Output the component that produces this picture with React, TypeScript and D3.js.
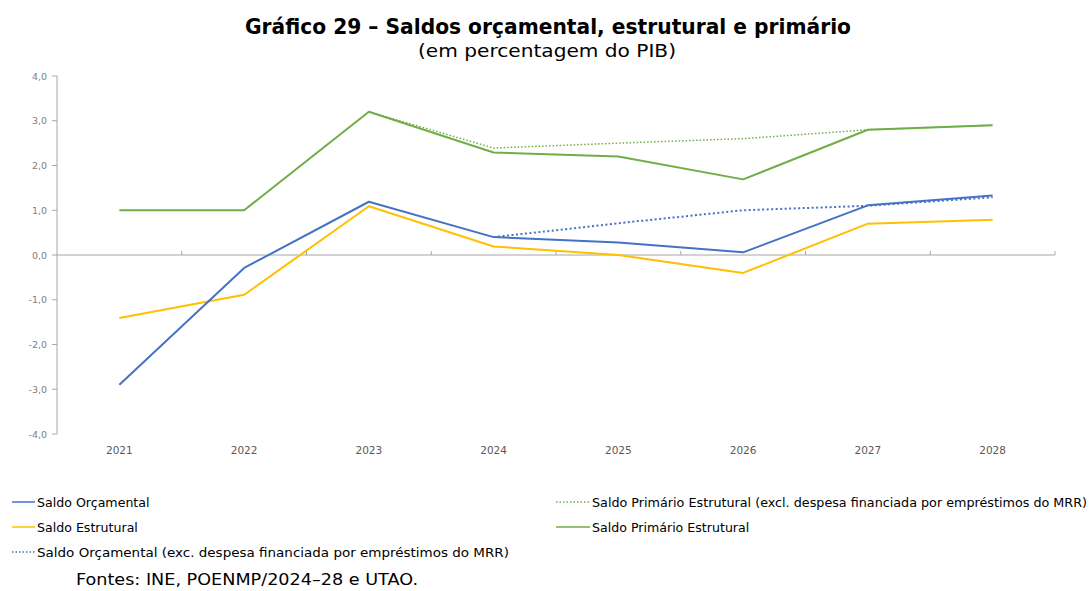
import React from "react";
import * as d3 from "d3";

const years = ["2021", "2022", "2023", "2024", "2025", "2026", "2027", "2028"];
const saldoOrcamental = [-2.9, -0.29, 1.19, 0.4, 0.28, 0.06, 1.11, 1.33];
const saldoEstrutural = [-1.41, -0.89, 1.09, 0.19, 0.0, -0.4, 0.7, 0.79];
const saldoPrimarioEstrutural = [1.0, 1.0, 3.2, 2.29, 2.2, 1.69, 2.8, 2.9];
const saldoPrimarioExcl = [null, null, 3.2, 2.39, 2.5, 2.6, 2.8, 2.9];
const saldoOrcamentalExcl = [null, null, null, 0.4, 0.71, 1.0, 1.1, 1.29];
const yTicks = [4, 3, 2, 1, 0, -1, -2, -3, -4];

const W = 1091;
const H = 591;
const font = "'DejaVu Sans', sans-serif";

export default function App() {
  const x = d3.scaleBand<string>().domain(years).range([57, 1055]);
  const y = d3.scaleLinear().domain([-4, 4]).range([434, 76]);
  const cx = (i: number) => (x(years[i]) as number) + x.bandwidth() / 2;

  const line = d3
    .line<number | null>()
    .defined((d) => d !== null)
    .x((_, i) => cx(i))
    .y((d) => y(d as number));

  const series = [
    { data: saldoOrcamentalExcl, color: "#4472C4", dash: "2,2.5", w: 2 },
    { data: saldoPrimarioExcl, color: "#70AD47", dash: "1.5,2", w: 1.5 },
    { data: saldoEstrutural, color: "#FFC000", dash: null, w: 2 },
    { data: saldoOrcamental, color: "#4472C4", dash: null, w: 2 },
    { data: saldoPrimarioEstrutural, color: "#70AD47", dash: null, w: 2 },
  ];

  const legend = [
    { label: "Saldo Orçamental", color: "#4472C4", dash: null, x: 12, y: 502, len: 23, tl: 0 },
    { label: "Saldo Estrutural", color: "#FFC000", dash: null, x: 12, y: 527, len: 23, tl: 0 },
    {
      label: "Saldo Orçamental (exc. despesa financiada por empréstimos do MRR)",
      color: "#4472C4",
      dash: "1.5,2",
      x: 12,
      y: 552,
      len: 23,
      tl: 472,
    },
    {
      label: "Saldo Primário Estrutural (excl. despesa financiada por empréstimos do MRR)",
      color: "#70AD47",
      dash: "1.5,2",
      x: 556,
      y: 502,
      len: 34,
      tl: 495,
    },
    { label: "Saldo Primário Estrutural", color: "#70AD47", dash: null, x: 556, y: 527, len: 34, tl: 0 },
  ];

  return (
    <svg
      width={W}
      height={H}
      style={{ position: "absolute", left: 0, top: 0, background: "#fff" }}
    >
      <text
        x={548}
        y={34}
        textAnchor="middle"
        fontFamily={font}
        fontWeight="bold"
        fontSize={20.5}
        fill="#000"
        textLength={606}
        lengthAdjust="spacingAndGlyphs"
      >
        Gráfico 29 – Saldos orçamental, estrutural e primário
      </text>
      <text
        x={547}
        y={57}
        textAnchor="middle"
        fontFamily={font}
        fontSize={18.5}
        fill="#000"
        textLength={258}
        lengthAdjust="spacingAndGlyphs"
      >
        (em percentagem do PIB)
      </text>

      {/* y axis */}
      <line x1={57} x2={57} y1={y(4)} y2={y(-4)} stroke="#a6a6a6" strokeWidth={1} />
      {yTicks.map((t) => (
        <g key={t}>
          <line x1={52} x2={57} y1={y(t)} y2={y(t)} stroke="#a6a6a6" />
          <text
            x={47}
            y={y(t) + 3.5}
            textAnchor="end"
            fontFamily={font}
            fontSize={9.5}
            fill="#808080"
          >
            {d3.format(".1f")(t).replace(".", ",").replace("−", "-")}
          </text>
        </g>
      ))}

      {/* x axis at zero */}
      <line x1={57} x2={1055} y1={y(0)} y2={y(0)} stroke="#a6a6a6" strokeWidth={1} />
      {years.map((yr, i) => (
        <g key={yr}>
          {i > 0 && (
            <line
              x1={x(yr) as number}
              x2={x(yr) as number}
              y1={y(0) - 4}
              y2={y(0)}
              stroke="#a6a6a6"
            />
          )}
          <text
            x={cx(i)}
            y={454}
            textAnchor="middle"
            fontFamily={font}
            fontSize={10.5}
            fill="#595959"
          >
            {yr}
          </text>
        </g>
      ))}
      <line x1={1055} x2={1055} y1={y(0) - 4} y2={y(0)} stroke="#a6a6a6" />

      {series.map((s, i) => (
        <path
          key={i}
          d={line(s.data) || ""}
          fill="none"
          stroke={s.color}
          strokeWidth={s.w}
          strokeDasharray={s.dash || undefined}
          strokeLinejoin="round"
        />
      ))}

      {legend.map((l, i) => (
        <g key={i}>
          <line
            x1={l.x}
            x2={l.x + l.len}
            y1={l.y}
            y2={l.y}
            stroke={l.color}
            strokeWidth={1.5}
            strokeDasharray={l.dash || undefined}
          />
          <text
            x={l.x + l.len + 2}
            y={l.y + 4.5}
            fontFamily={font}
            fontSize={12.6}
            fill="#000"
            textLength={l.tl || undefined}
            lengthAdjust={l.tl ? "spacingAndGlyphs" : undefined}
          >
            {l.label}
          </text>
        </g>
      ))}

      <text
        x={76}
        y={585}
        fontFamily={font}
        fontSize={16.5}
        fill="#000"
        textLength={342}
        lengthAdjust="spacingAndGlyphs"
      >
        Fontes: INE, POENMP/2024–28 e UTAO.
      </text>
    </svg>
  );
}
